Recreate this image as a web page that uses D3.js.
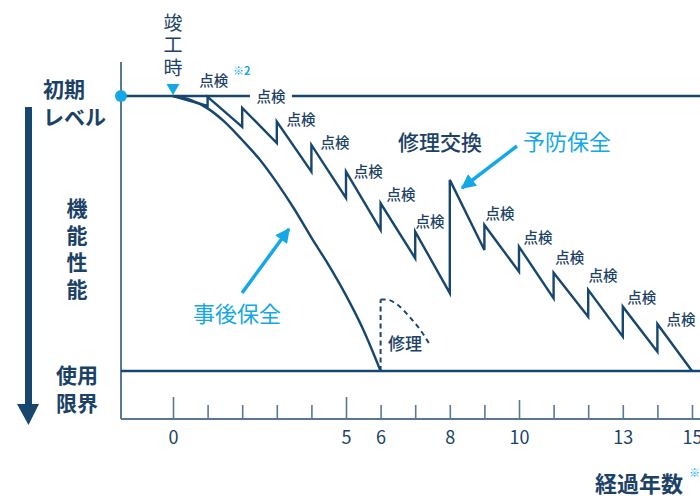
<!DOCTYPE html>
<html lang="ja">
  <head>
    <meta charset="utf-8">
    <title>予防保全と事後保全</title>
    <script src="https://d3js.org/d3.v7.min.js"></script>
    <style>
      body { margin: 0; background: #ffffff; }
      svg { display: block; font-family: "Noto Sans CJK JP", sans-serif; }
      .navy { fill: #1b4266; }
      .cyan { fill: #15a8e6; }
      .vert { writing-mode: vertical-rl; }
      .tick text { font-size: 18px; fill: #1b4266; font-family: "Noto Sans CJK JP", sans-serif; }
      .tick line { stroke: #5a7893; stroke-width: 1.6; }
      .domain { display: none; }
    </style>
  </head>
  <body>
    <svg id="chart" width="700" height="497"></svg>
    <script>

    // data
    const years = d3.range(0, 16);
    const tickLabels = [0, 5, 6, 8, 10, 13, 15];

    // preventive maintenance: level just before / after each inspection
    const levelBefore = [null, 96.4, 88.8, 82.9, 72.5, 62.9, 51.3, 41.0, 28.3, 44.0, 36.1, 26.4, 19.7, 12.5, 7.0, 0];
    const levelAfter  = [100, 99.7, 95.7, 90.7, 82.2, 72.5, 61.0, 50.7, 69.5, 53.1, 45.2, 35.7, 29.5, 23.4, 17.1, null];

    // reactive maintenance curve
    const reactiveYears = [0, 0.5, 1, 1.5, 2, 2.5, 3, 3.5, 4, 4.5, 5, 5.5, 6];
    const reactiveLevel = [100, 98.6, 95.5, 90.5, 84, 77, 68.5, 59, 48.5, 38.5, 27.5, 15, 0];

    // repair arc (dashed)
    const repairYears = [6.15, 6.5, 6.85, 7.2, 7.45];
    const repairLevel = [26, 24, 19.5, 14, 9];

    // inspection label anchors (year, level)
    const inspectYears = [1.18, 2.83, 3.70, 4.68, 5.64, 6.59, 7.43, 9.45, 10.55, 11.47, 12.43, 13.55, 14.68];
    const inspectLevel = [105.5, 99.6, 91.3, 82.9, 72.4, 64.0, 54.2, 57.1, 48.4, 41.1, 34.5, 26.5, 18.5];

    // layout
    const navy = '#17466e';
    const axisColor = '#5a7893';
    const cyan = '#15a8e6';
    const axisX = 121;
    const baseY = 419;

    const svg = d3.select('#chart');

    const x = d3.scaleLinear().domain([0, 15]).range([173, 692]);
    const y = d3.scaleLinear().domain([0, 100]).range([371, 96]);

    const defs = svg.append('defs');
    defs.append('marker')
      .attr('id', 'cyanHead')
      .attr('viewBox', '0 0 10 10')
      .attr('refX', 9)
      .attr('refY', 5)
      .attr('markerWidth', 5)
      .attr('markerHeight', 4.2)
      .attr('markerUnits', 'strokeWidth')
      .attr('orient', 'auto')
      .append('path')
      .attr('d', 'M0,0 L10,5 L0,10 Z')
      .attr('fill', cyan);

    // left axis line and bottom baseline
    svg.append('line')
      .attr('x1', axisX).attr('x2', axisX)
      .attr('y1', 62).attr('y2', baseY)
      .attr('stroke', axisColor).attr('stroke-width', 2);

    svg.append('line')
      .attr('x1', axisX).attr('x2', 700)
      .attr('y1', baseY).attr('y2', baseY)
      .attr('stroke', axisColor).attr('stroke-width', 2);

    // usage limit line
    svg.append('line')
      .attr('x1', axisX).attr('x2', 700)
      .attr('y1', y(0)).attr('y2', y(0))
      .attr('stroke', navy).attr('stroke-width', 2.6);

    // ticks (up from baseline)
    const tickAxis = svg.append('g')
      .attr('transform', 'translate(0,' + baseY + ')')
      .call(d3.axisBottom(x).tickValues(years).tickSize(-14).tickFormat(''));
    tickAxis.selectAll('.tick line')
      .attr('y2', d => (d == 0 || d == 5) ? -22 : (d == 10 ? -19 : -14));

    svg.append('g')
      .attr('transform', 'translate(0,' + baseY + ')')
      .call(d3.axisBottom(x).tickValues(tickLabels).tickSize(0).tickPadding(12));

    // initial level line, with gap for the second label
    const gapX = x(inspectYears[1]);
    svg.append('line')
      .attr('x1', axisX).attr('x2', gapX - 21)
      .attr('y1', y(100)).attr('y2', y(100))
      .attr('stroke', navy).attr('stroke-width', 2.6);
    svg.append('line')
      .attr('x1', gapX + 21).attr('x2', 700)
      .attr('y1', y(100)).attr('y2', y(100))
      .attr('stroke', navy).attr('stroke-width', 2.6);

    // reactive curve
    const reactive = reactiveYears.map((d, i) => [d, reactiveLevel[i]]);
    svg.append('path')
      .datum(reactive)
      .attr('fill', 'none')
      .attr('stroke', navy)
      .attr('stroke-width', 2.4)
      .attr('d', d3.line().x(d => x(d[0])).y(d => y(d[1])).curve(d3.curveMonotoneX));

    // preventive sawtooth
    const saw = [];
    years.forEach(t => {
      if (levelBefore[t] != null) saw.push([t, levelBefore[t]]);
      if (levelAfter[t] != null) saw.push([t, levelAfter[t]]);
    });
    svg.append('path')
      .datum(saw)
      .attr('fill', 'none')
      .attr('stroke', navy)
      .attr('stroke-width', 2.4)
      .attr('stroke-linejoin', 'miter')
      .attr('d', d3.line().x(d => x(d[0])).y(d => y(d[1])));

    // repair dashed
    svg.append('line')
      .attr('x1', x(6)).attr('x2', x(6))
      .attr('y1', y(0)).attr('y2', y(repairLevel[0]))
      .attr('stroke', navy).attr('stroke-width', 2)
      .attr('stroke-dasharray', '5,3.5');
    svg.append('path')
      .datum([[6, repairLevel[0]]].concat(repairYears.map((d, i) => [d, repairLevel[i]])))
      .attr('fill', 'none')
      .attr('stroke', navy)
      .attr('stroke-width', 2)
      .attr('stroke-dasharray', '5,4')
      .attr('d', d3.line().x(d => x(d[0])).y(d => y(d[1])).curve(d3.curveMonotoneX));

    // inspection labels
    svg.append('g')
      .selectAll('text')
      .data(inspectYears)
      .join('text')
      .attr('class', 'navy')
      .attr('x', d => x(d))
      .attr('y', (d, i) => y(inspectLevel[i]))
      .attr('dy', '0.36em')
      .attr('text-anchor', 'middle')
      .attr('font-size', 14.5)
      .attr('font-weight', 500)
      .text('点検');

    svg.append('text')
      .attr('class', 'cyan')
      .attr('x', 233).attr('y', 75)
      .attr('font-size', 11)
      .attr('font-weight', 'bold')
      .text('※2');

    // start marker
    svg.append('circle')
      .attr('cx', axisX).attr('cy', y(100)).attr('r', 6)
      .attr('fill', cyan);

    svg.append('path')
      .attr('d', 'M' + (x(0) - 6.5) + ',84 L' + (x(0) + 6.5) + ',84 L' + x(0) + ',95 Z')
      .attr('fill', cyan);

    // 竣工時 (vertical)
    svg.append('text')
      .attr('class', 'navy vert')
      .attr('x', x(0))
      .attr('y', 13)
      .attr('font-size', 19)
      .attr('letter-spacing', 3.5)
      .text('竣工時');

    // left labels
    const initLabel = svg.append('text')
      .attr('class', 'navy')
      .attr('font-size', 21)
      .attr('font-weight', 'bold');
    initLabel.selectAll('tspan')
      .data(['初期', 'レベル'])
      .join('tspan')
      .attr('x', 43)
      .attr('y', (d, i) => 89 + i * 28)
      .attr('dy', '0.36em')
      .text(d => d);

    svg.append('text')
      .attr('class', 'navy vert')
      .attr('x', 77)
      .attr('y', 197.5)
      .attr('font-size', 21)
      .attr('font-weight', 'bold')
      .attr('letter-spacing', 6)
      .text('機能性能');

    const limitLabel = svg.append('text')
      .attr('class', 'navy')
      .attr('text-anchor', 'middle')
      .attr('font-size', 21)
      .attr('font-weight', 'bold');
    limitLabel.selectAll('tspan')
      .data(['使用', '限界'])
      .join('tspan')
      .attr('x', 77)
      .attr('y', (d, i) => 375.5 + i * 28)
      .attr('dy', '0.36em')
      .text(d => d);

    // big down arrow
    svg.append('rect')
      .attr('x', 25).attr('y', 107).attr('width', 7).attr('height', 300)
      .attr('fill', navy);
    svg.append('path')
      .attr('d', 'M17,404 L39,404 L28.5,425 Z')
      .attr('fill', navy);

    // annotations
    svg.append('text')
      .attr('class', 'navy')
      .attr('x', 440).attr('y', 142)
      .attr('dy', '0.36em')
      .attr('text-anchor', 'middle')
      .attr('font-size', 21)
      .attr('font-weight', 500)
      .text('修理交換');

    svg.append('text')
      .attr('class', 'cyan')
      .attr('x', 567).attr('y', 142)
      .attr('dy', '0.36em')
      .attr('text-anchor', 'middle')
      .attr('font-size', 22)
      .text('予防保全');

    svg.append('text')
      .attr('class', 'cyan')
      .attr('x', 237).attr('y', 314)
      .attr('dy', '0.36em')
      .attr('text-anchor', 'middle')
      .attr('font-size', 22)
      .text('事後保全');

    svg.append('text')
      .attr('class', 'navy')
      .attr('x', 405).attr('y', 344)
      .attr('dy', '0.36em')
      .attr('text-anchor', 'middle')
      .attr('font-size', 17)
      .attr('font-weight', 500)
      .text('修理');

    svg.append('line')
      .attr('x1', 517).attr('y1', 146)
      .attr('x2', 462).attr('y2', 188)
      .attr('stroke', cyan).attr('stroke-width', 3.5)
      .attr('marker-end', 'url(#cyanHead)');

    svg.append('line')
      .attr('x1', 242).attr('y1', 293)
      .attr('x2', 289).attr('y2', 229)
      .attr('stroke', cyan).attr('stroke-width', 3.5)
      .attr('marker-end', 'url(#cyanHead)');

    // x title
    svg.append('text')
      .attr('class', 'navy')
      .attr('x', 683).attr('y', 484)
      .attr('dy', '0.36em')
      .attr('text-anchor', 'end')
      .attr('font-size', 22)
      .attr('font-weight', 'bold')
      .text('経過年数');

    svg.append('text')
      .attr('class', 'cyan')
      .attr('x', 689).attr('y', 477)
      .attr('font-size', 11)
      .text('※');

    </script>
  </body>
</html>
